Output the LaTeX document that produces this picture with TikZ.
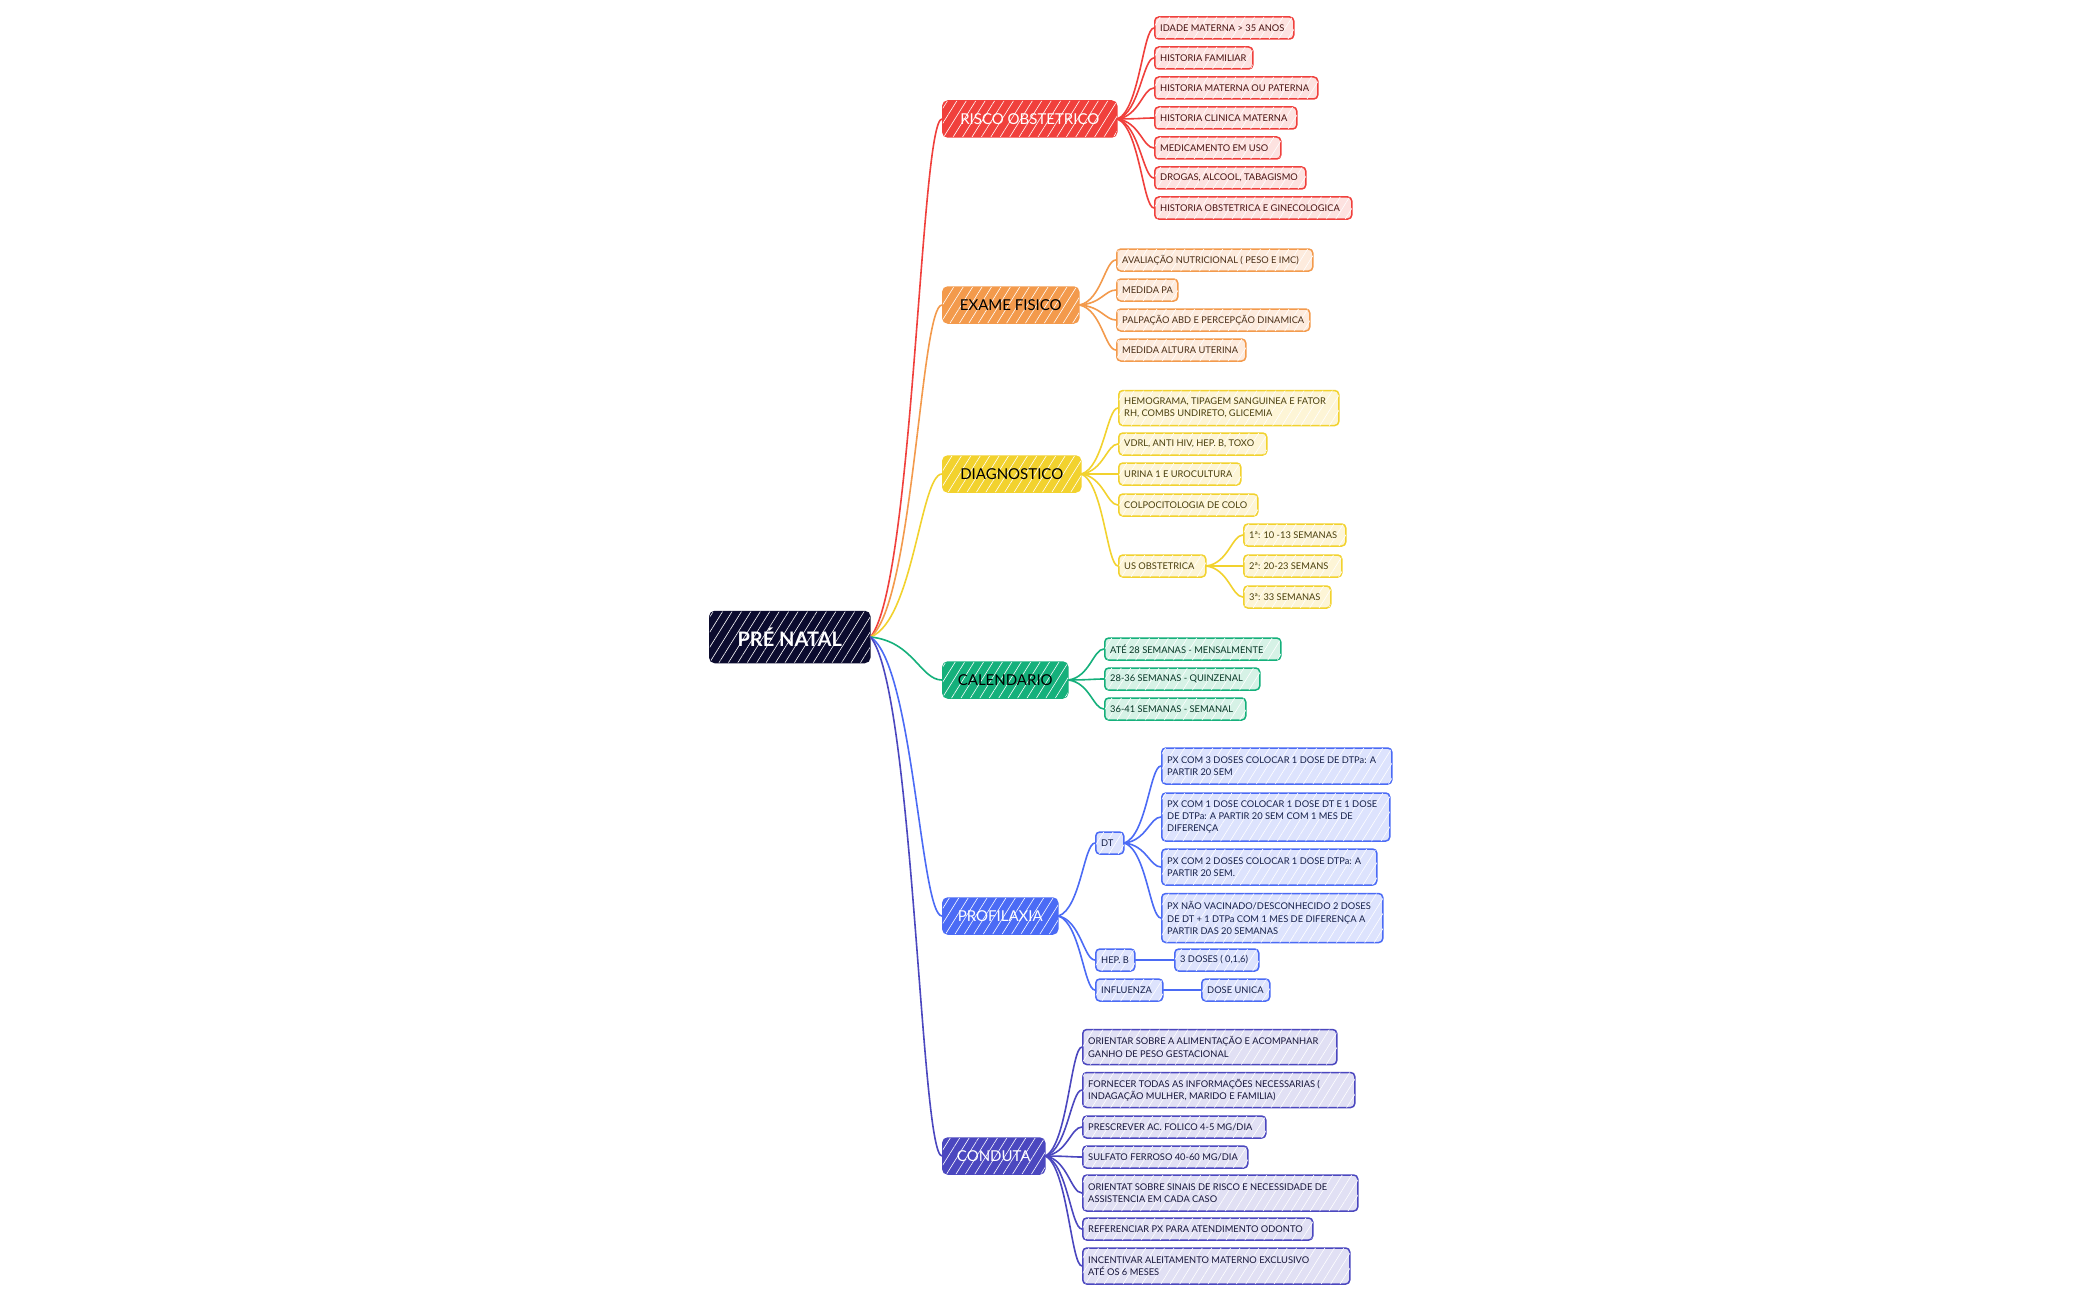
\documentclass[tikz,border=0pt]{standalone}
\usepackage{fontspec}
\setmainfont{Lato}
\usetikzlibrary{calc,patterns.meta}
\definecolor{cRoot}{HTML}{0B0B2E}
\definecolor{cRed}{HTML}{F0403C}
\definecolor{cRedL}{HTML}{FDE2E0}
\definecolor{cOra}{HTML}{F39A4C}
\definecolor{cOraL}{HTML}{FDEBDD}
\definecolor{cYel}{HTML}{F2D22E}
\definecolor{cYelL}{HTML}{FDF5D6}
\definecolor{cGre}{HTML}{15B07B}
\definecolor{cGreL}{HTML}{D6F2E6}
\definecolor{cBlu}{HTML}{4B6BF5}
\definecolor{cBluL}{HTML}{DDE3FD}
\definecolor{cInd}{HTML}{4B47BF}
\definecolor{cIndL}{HTML}{E1E0F4}
\tikzset{
  hatch/.style={postaction={fill opacity=#1, pattern={Lines[angle=58,distance=8pt,line width=0.6pt]}, pattern color=white}},
  mainnode/.style 2 args={rounded corners=5pt, fill=#1, draw=#1, line width=1.5pt, text=#2,
    font=\fontsize{15}{18}\selectfont, minimum height=36pt, inner xsep=0pt, hatch=0.6},
  rootnode/.style={rounded corners=5pt, fill=cRoot, draw=cRoot, line width=1.5pt, text=white,
    font=\fontsize{20}{24}\selectfont\bfseries, minimum height=51pt, minimum width=160pt, inner xsep=0pt, hatch=0.6},
  leafbox/.style={rounded corners=4pt, line width=1.5pt, inner sep=0pt,
    minimum height=22pt, fill=#1L, draw=#1, hatch=0.35},
  leaftext/.style={inner sep=0pt, align=left, font=\fontsize{9.3}{12.3}\selectfont, text=#1!30!black},
  link/.style={line width=1.6pt, line cap=round}
}
% \leaf{colour}{extra box options}{name}{left}{right}{centre y}{text}
\newcommand\leaf[7]{%
  \pgfmathsetmacro\tw{#5-#4}%
  \node[leafbox=#1, #2, anchor=west, minimum width=\tw pt] (#3) at (#4,#6) {};
  \node[leaftext=#1, anchor=west] (#3t) at ($(#3.west)+(6,0)$) {#7};}
\newcommand\mainbox[7]{% name, left, right, cy, fill, textcolor, text
  \pgfmathsetmacro\mw{#3-#2}%
  \node[mainnode={#5}{#6}, anchor=west, minimum width=\mw pt] (#1) at (#2,#4) {#7};}
\newcommand\conn[3]{%
  \draw[link, #1] let \p1=(#2.east), \p2=(#3.west) in
    (\p1) .. controls ({\x1+0.6*(\x2-\x1)},{\y1+0.1*(\y2-\y1)}) and ({\x1+0.7*(\x2-\x1)},\y2) .. (\p2);}
\begin{document}
\begin{tikzpicture}[x=1pt,y=-1pt]
\fill[white] (0,0) rectangle (2100,1300);
\useasboundingbox (0,0) rectangle (2100,1300);

\node[rootnode, anchor=west] (root) at (709,637) {PRÉ NATAL};

\mainbox{risco}{942}{1116}{119}{cRed}{white}{RISCO OBSTETRICO}
\mainbox{exame}{942}{1078}{305}{cOra}{black}{EXAME FISICO}
\mainbox{diag}{942}{1080}{474}{cYel}{black}{DIAGNOSTICO}
\mainbox{cal}{942}{1067}{680}{cGre}{black}{CALENDARIO}
\mainbox{prof}{942}{1057}{916}{cBlu}{white}{PROFILAXIA}
\mainbox{cond}{942}{1044}{1156}{cInd}{white}{CONDUTA}

% risco
\leaf{cRed}{}{r1}{1154}{1293}{28}{IDADE MATERNA > 35 ANOS}
\leaf{cRed}{}{r2}{1154}{1252}{58}{HISTORIA FAMILIAR}
\leaf{cRed}{}{r3}{1154}{1317}{88}{HISTORIA MATERNA OU PATERNA}
\leaf{cRed}{}{r4}{1154}{1296}{118}{HISTORIA CLINICA MATERNA}
\leaf{cRed}{}{r5}{1154}{1280}{148}{MEDICAMENTO EM USO}
\leaf{cRed}{}{r6}{1154}{1305}{178}{DROGAS, ALCOOL, TABAGISMO}
\leaf{cRed}{}{r7}{1154}{1351}{208}{HISTORIA OBSTETRICA E GINECOLOGICA}
% exame
\leaf{cOra}{}{e1}{1116}{1312}{260}{AVALIAÇÃO NUTRICIONAL ( PESO E IMC)}
\leaf{cOra}{}{e2}{1116}{1177}{290}{MEDIDA PA}
\leaf{cOra}{}{e3}{1116}{1309}{320}{PALPAÇÃO ABD E PERCEPÇÃO DINAMICA}
\leaf{cOra}{}{e4}{1116}{1245}{350}{MEDIDA ALTURA UTERINA}
% diagnostico
\leaf{cYel}{minimum height=35pt}{d1}{1118}{1338}{408}{HEMOGRAMA, TIPAGEM SANGUINEA E FATOR\\RH, COMBS UNDIRETO, GLICEMIA}
\leaf{cYel}{}{d2}{1118}{1266}{444}{VDRL, ANTI HIV, HEP. B, TOXO}
\leaf{cYel}{}{d3}{1118}{1240}{474}{URINA 1 E UROCULTURA}
\leaf{cYel}{}{d4}{1118}{1257}{505}{COLPOCITOLOGIA DE COLO}
\leaf{cYel}{}{d5}{1118}{1205}{566}{US OBSTETRICA}
\leaf{cYel}{}{u1}{1243}{1345}{535}{1ª: 10 -13 SEMANAS}
\leaf{cYel}{}{u2}{1243}{1341}{566}{2ª: 20-23 SEMANS}
\leaf{cYel}{}{u3}{1243}{1330}{597}{3ª: 33 SEMANAS}
% calendario
\leaf{cGre}{}{g1}{1104}{1280}{649}{ATÉ 28 SEMANAS - MENSALMENTE}
\leaf{cGre}{}{g2}{1104}{1259}{679}{28-36 SEMANAS - QUINZENAL}
\leaf{cGre}{}{g3}{1104}{1245}{709}{36-41 SEMANAS - SEMANAL}
% profilaxia
\leaf{cBlu}{}{dt}{1095}{1123}{843}{DT}
\leaf{cBlu}{}{hb}{1095}{1134}{960}{HEP. B}
\leaf{cBlu}{}{inf}{1095}{1162}{990}{INFLUENZA}
\leaf{cBlu}{minimum height=36pt}{p1}{1161}{1391}{766}{PX COM 3 DOSES COLOCAR 1 DOSE DE DTPa: A\\PARTIR 20 SEM}
\leaf{cBlu}{minimum height=48pt}{p2}{1161}{1389}{817}{PX COM 1 DOSE COLOCAR 1 DOSE DT E 1 DOSE\\DE DTPa: A PARTIR 20 SEM COM 1 MES DE\\DIFERENÇA}
\leaf{cBlu}{minimum height=36pt}{p3}{1161}{1376}{867}{PX COM 2 DOSES COLOCAR 1 DOSE DTPa: A\\PARTIR 20 SEM.}
\leaf{cBlu}{minimum height=49pt}{p4}{1161}{1382}{918}{PX NÃO VACINADO/DESCONHECIDO 2 DOSES\\DE DT + 1 DTPa COM 1 MES DE DIFERENÇA A\\PARTIR DAS 20 SEMANAS}
\leaf{cBlu}{}{hb1}{1174}{1258}{960}{3 DOSES ( 0,1,6)}
\leaf{cBlu}{}{inf1}{1201}{1269}{990}{DOSE UNICA}
% conduta
\leaf{cInd}{minimum height=35pt}{k1}{1082}{1336}{1047}{ORIENTAR SOBRE A ALIMENTAÇÃO E ACOMPANHAR\\GANHO DE PESO GESTACIONAL}
\leaf{cInd}{minimum height=35pt}{k2}{1082}{1354}{1090}{FORNECER TODAS AS INFORMAÇÕES NECESSARIAS (\\INDAGAÇÃO MULHER, MARIDO E FAMILIA)}
\leaf{cInd}{}{k3}{1082}{1265}{1127}{PRESCREVER AC. FOLICO 4-5 MG/DIA}
\leaf{cInd}{}{k4}{1082}{1247}{1157}{SULFATO FERROSO 40-60 MG/DIA}
\leaf{cInd}{minimum height=36pt}{k5}{1082}{1357}{1193}{ORIENTAT SOBRE SINAIS DE RISCO E NECESSIDADE DE\\ASSISTENCIA EM CADA CASO}
\leaf{cInd}{}{k6}{1082}{1312}{1229}{REFERENCIAR PX PARA ATENDIMENTO ODONTO}
\leaf{cInd}{minimum height=36pt}{k7}{1082}{1349}{1266}{INCENTIVAR ALEITAMENTO MATERNO EXCLUSIVO\\ATÉ OS 6 MESES}

% connectors
\conn{cRed}{root}{risco}
\conn{cOra}{root}{exame}
\conn{cYel}{root}{diag}
\conn{cGre}{root}{cal}
\conn{cBlu}{root}{prof}
\conn{cInd}{root}{cond}
\foreach \q in {r1,r2,r3,r4,r5,r6,r7}{\conn{cRed}{risco}{\q}}
\foreach \q in {e1,e2,e3,e4}{\conn{cOra}{exame}{\q}}
\foreach \q in {d1,d2,d3,d4,d5}{\conn{cYel}{diag}{\q}}
\foreach \q in {u1,u2,u3}{\conn{cYel}{d5}{\q}}
\foreach \q in {g1,g2,g3}{\conn{cGre}{cal}{\q}}
\foreach \q in {dt,hb,inf}{\conn{cBlu}{prof}{\q}}
\foreach \q in {p1,p2,p3,p4}{\conn{cBlu}{dt}{\q}}
\draw[link, cBlu] (hb.east) -- (hb1.west);
\draw[link, cBlu] (inf.east) -- (inf1.west);
\foreach \q in {k1,k2,k3,k4,k5,k6,k7}{\conn{cInd}{cond}{\q}}
\end{tikzpicture}
\end{document}
